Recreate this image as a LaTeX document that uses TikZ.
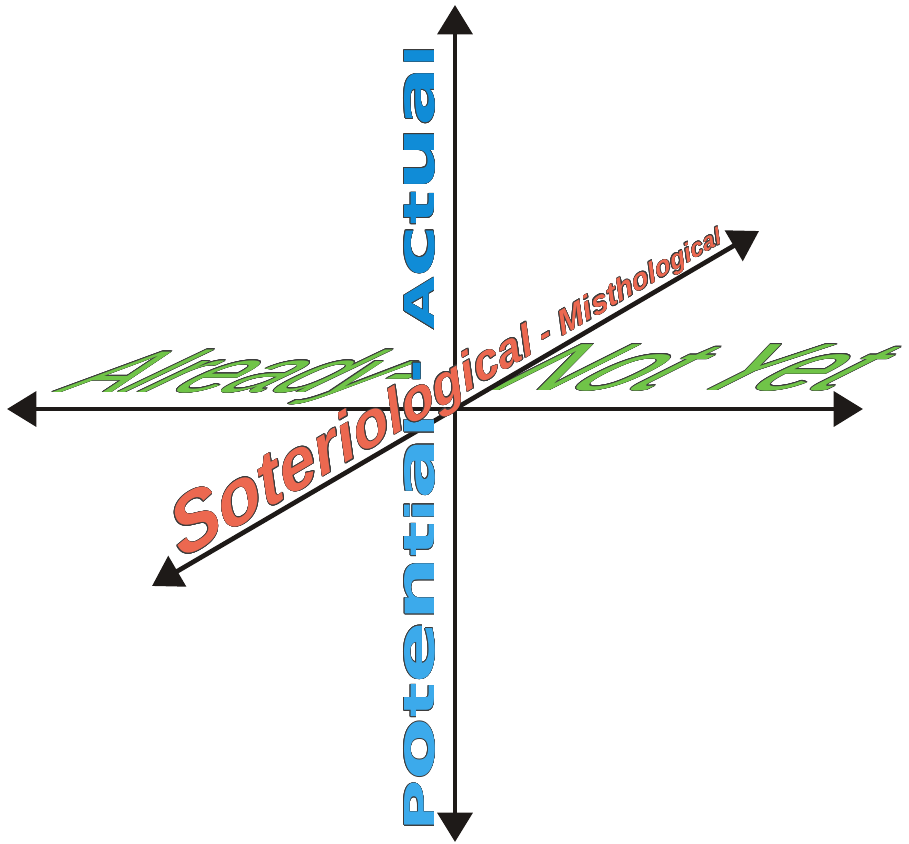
\documentclass[tikz,border=0pt]{standalone}
\usepackage{fontspec}
\setmainfont{Liberation Sans}
\newfontfamily\bluefont{DejaVu Sans}
\usepackage{graphicx}
\usepackage{contour}
\contourlength{0.4pt}
\contournumber{16}
\usetikzlibrary{arrows.meta}
\definecolor{axiscol}{RGB}{30,26,24}
\definecolor{bluecol}{RGB}{16,140,215}
\definecolor{bluelight}{RGB}{60,170,235}
\definecolor{redcol}{RGB}{236,104,80}
\definecolor{greencol}{RGB}{112,196,72}
\definecolor{outl}{RGB}{60,60,60}
\newcommand\eqh[1]{\resizebox{!}{10pt}{#1}}
\begin{document}
\begin{tikzpicture}[x=0.75pt,y=-0.75pt,
  axis/.style={line width=3.5pt, draw=axiscol,
    arrows={Triangle[length=22pt,width=26pt]-Triangle[length=22pt,width=26pt]}},
  bluetxt/.style={text=bluecol, inner sep=0pt, transform shape, font=\bluefont\bfseries},
  redtxt/.style={text=redcol, inner sep=0pt, transform shape},
  greentxt/.style={text=greencol, inner sep=0pt, transform shape}]
\useasboundingbox (0,0) rectangle (909,843);

% green text
\begin{scope}[shift={(52,392)}, cm={1.52,0,2.1,1,(0,0)}]
  \node[greentxt, anchor=base west, font=\fontsize{44}{44}\selectfont] (already) at (0,0)
    {{\contourlength{0.25pt}\contour{outl}{Already-}}};
\end{scope}
\begin{scope}[shift={(481,390)}, cm={1.6,0,2.0,1,(0,0)}]
  \node[greentxt, anchor=base west, font=\fontsize{50}{50}\selectfont] (notyet) at (0,0)
    {{\contourlength{0.25pt}\contour{outl}{Not Yet}}};
\end{scope}

% axes
\coordinate (vt) at (455,5);
\coordinate (vb) at (455,842);
\coordinate (hl) at (7,409);
\coordinate (hr) at (863,409);
\coordinate (dl) at (152,586);
\coordinate (dr) at (759,231);
\draw[axis] (vb) -- (vt);
\draw[axis] (hl) -- (hr);
\draw[axis] (dl) -- (dr);

% blue text
\begin{scope}[shift={(436,832)}, rotate=90]
  \node[bluetxt, text=bluelight, anchor=south west] (potential) at (0,0)
    {\contour{outl}{\resizebox{312.75pt}{22.5pt}{\eqh{P}\eqh{o}\eqh{t}\eqh{e}\eqh{n}\eqh{t}\eqh{i}\eqh{a}\eqh{l}}}};
  \node[bluetxt, anchor=base, font=\bluefont\bfseries\fontsize{40}{40}\selectfont] (dash) at (461,-4)
    {\contour{outl}{-}};
  \node[bluetxt, anchor=south west] (actual) at (502,0)
    {\contour{outl}{\resizebox{213.75pt}{22.5pt}{\eqh{A}\eqh{c}\eqh{t}\eqh{u}\eqh{a}\eqh{l}}}};
\end{scope}

% red text
\begin{scope}[shift={(181,560)}, rotate=30.4, xslant=0.22]
  \node[redtxt, anchor=base west, font=\fontsize{58.5}{58.5}\selectfont\bfseries\itshape] (r0) at (0,0)
    {\contour{outl}{S}};
  \foreach \ch [count=\i] in {o,t,e,r,i,o,l,o,g,i,c,a,l,{\ -\ },M,i,s,t,h,o,l,o,g,i,c,a,l}{
    \pgfmathsetmacro\fs{58.5*(\i<14 ? 1-0.035*\i : 0.44-0.012*(\i-14))}
    \pgfmathtruncatemacro\j{\i-1}
    \node[redtxt, anchor=base west, font=\fontsize{\fs}{\fs}\selectfont\bfseries\itshape] (r\i) at (r\j.base east)
      {\contour{outl}{\ch}};
  }
\end{scope}
\end{tikzpicture}
\end{document}
